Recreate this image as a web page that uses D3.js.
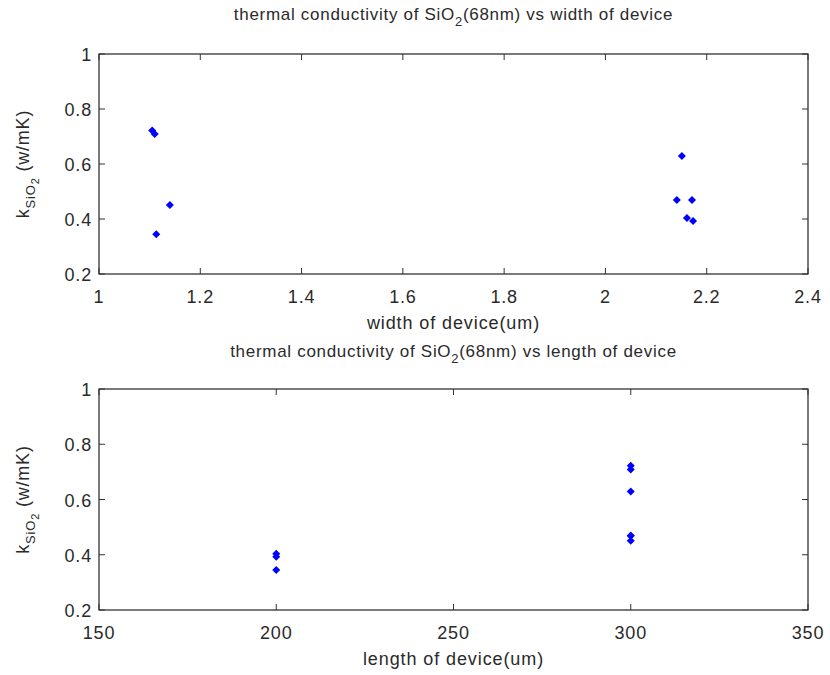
<!DOCTYPE html>
<html>
<head>
<meta charset="utf-8">
<script src="https://d3js.org/d3.v7.min.js"></script>
<style>
body { margin: 0; background: #fff; font-family: 'Liberation Sans', Arial, sans-serif; }
svg text { fill: #2a2a2a; }
</style>
</head>
<body>
<svg id="chart" width="830" height="675"></svg>
<script>
// measured per device: width (um), length (um), k of SiO2 (w/mK)
var widths  = [1.105, 1.11, 1.14, 1.113, 2.151, 2.141, 2.171, 2.161, 2.173];
var lengths = [300, 300, 300, 200, 300, 300, 300, 200, 200];
var kvals   = [0.722, 0.709, 0.451, 0.345, 0.629, 0.469, 0.469, 0.404, 0.393];

var yTicks = [0.2, 0.4, 0.6, 0.8, 1];
var widthTicks = [1, 1.2, 1.4, 1.6, 1.8, 2, 2.2, 2.4];
var lengthTicks = [150, 200, 250, 300, 350];

var svg = d3.select("#chart");
var left = 99, right = 808;

function panel(top, bottom, titleY, xs, xDomain, xTicks, title, xlabel) {
  var x = d3.scaleLinear().domain(xDomain).range([left, right]);
  var y = d3.scaleLinear().domain([0.2, 1]).range([bottom, top]);
  var g = svg.append("g");

  // box
  g.append("rect").attr("x", left).attr("y", top)
    .attr("width", right - left).attr("height", bottom - top)
    .attr("fill", "none").attr("stroke", "#333").attr("stroke-width", 1.3);

  // inward ticks, matlab style
  var tl = 6;
  xTicks.forEach(function(t) {
    g.append("line").attr("x1", x(t)).attr("x2", x(t)).attr("y1", bottom).attr("y2", bottom - tl)
      .attr("stroke", "#333");
    g.append("line").attr("x1", x(t)).attr("x2", x(t)).attr("y1", top).attr("y2", top + tl)
      .attr("stroke", "#333");
    g.append("text").attr("x", x(t)).attr("y", bottom + 29)
      .attr("text-anchor", "middle").style("font-size", "18px").style("letter-spacing", "0.8px")
      .text(t);
  });
  yTicks.forEach(function(t) {
    g.append("line").attr("x1", left).attr("x2", left + tl).attr("y1", y(t)).attr("y2", y(t))
      .attr("stroke", "#333");
    g.append("line").attr("x1", right).attr("x2", right - tl).attr("y1", y(t)).attr("y2", y(t))
      .attr("stroke", "#333");
    g.append("text").attr("x", left - 7).attr("y", y(t) + 7)
      .attr("text-anchor", "end").style("font-size", "18px").style("letter-spacing", "0.8px")
      .text(t);
  });

  // title with subscript
  var tt = g.append("text").attr("x", (left + right) / 2).attr("y", titleY)
    .attr("text-anchor", "middle").style("font-size", "17px").style("letter-spacing", "0.7px");
  tt.append("tspan").text(title[0]);
  tt.append("tspan").attr("dy", 6).style("font-size", "13px").text("2");
  tt.append("tspan").attr("dy", -6).text(title[1]);

  // x label
  g.append("text").attr("x", (left + right) / 2).attr("y", bottom + 55)
    .attr("text-anchor", "middle").style("font-size", "18px").style("letter-spacing", "0.9px")
    .text(xlabel);

  // y label
  var cy = (top + bottom) / 2;
  var yl = g.append("text").attr("transform", "translate(29," + cy + ") rotate(-90)")
    .attr("text-anchor", "middle").style("font-size", "18px").style("letter-spacing", "0.8px");
  yl.append("tspan").text("k");
  yl.append("tspan").attr("dy", 6).style("font-size", "13px").text("SiO");
  yl.append("tspan").attr("dy", 4).style("font-size", "11px").text("2");
  yl.append("tspan").attr("dy", -10).text("  (w/mK)");

  // points as small diamonds
  g.selectAll(".pt").data(kvals).enter().append("path")
    .attr("class", "pt")
    .attr("d", "M0,-4L4,0L0,4L-4,0Z")
    .attr("fill", "#0000ff")
    .attr("transform", function(d, i) { return "translate(" + x(xs[i]) + "," + y(d) + ")"; });
}

panel(54, 274, 20, widths, [1, 2.4], widthTicks,
  ["thermal conductivity of SiO", "(68nm) vs width of device"], "width of device(um)");
panel(389, 610, 357, lengths, [150, 350], lengthTicks,
  ["thermal conductivity of SiO", "(68nm) vs length of device"], "length of device(um)");
</script>
</body>
</html>
